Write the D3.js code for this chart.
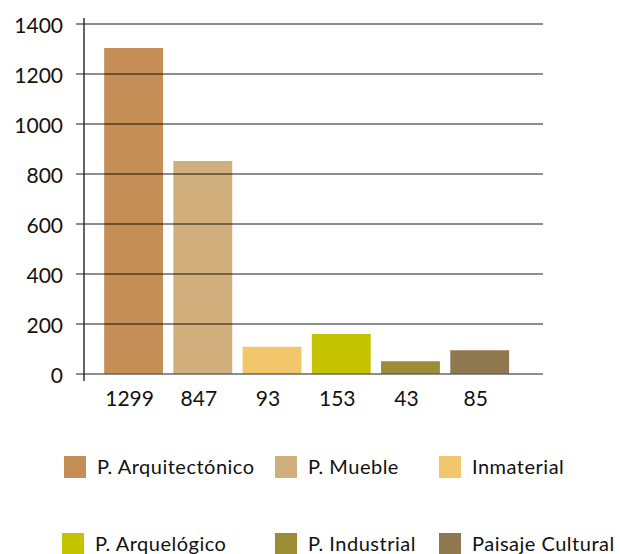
<!DOCTYPE html>
<html>
<head>
<meta charset="utf-8">
<script src="https://cdn.jsdelivr.net/npm/d3@7"></script>
<style>
  html, body { margin: 0; padding: 0; background: #fff; }
  svg { display: block; font-family: Lato, "Open Sans", sans-serif; }
</style>
</head>
<body>
<svg id="chart" width="620" height="554"></svg>
<script>
// ---- data ----
const categories = ["P. Arquitectónico", "P. Mueble", "Inmaterial", "P. Arqueológico", "P. Industrial", "Paisaje Cultural"];
const barLabels = ["1299", "847", "93", "153", "43", "85"];
const values = [1302, 850, 107, 158, 49, 93];
const colors = ["#C68E57", "#D0AF7C", "#F2C66A", "#C5C200", "#9C8C36", "#8F774F"];
const legendNames = ["P. Arquitectónico", "P. Mueble", "Inmaterial", "P. Arquelógico", "P. Industrial", "Paisaje Cultural"];
const yTicks = [0, 200, 400, 600, 800, 1000, 1200, 1400];

const svg = d3.select("#chart");

const y = d3.scaleLinear().domain([0, 1400]).range([373.5, 23.5]);
const x = d3.scaleBand().domain(categories).range([93.8, 519.5]).paddingInner(0.15).paddingOuter(0.15);

// bars
svg.append("g").selectAll("rect")
  .data(values)
  .join("rect")
  .attr("x", (d, i) => x(categories[i]))
  .attr("width", x.bandwidth())
  .attr("y", d => y(d))
  .attr("height", d => y(0) - y(d))
  .attr("fill", (d, i) => colors[i]);

// y axis with gridlines (drawn over bars)
const gridLeft = 76, gridRight = 543;
const yAxis = d3.axisLeft(y).tickValues(yTicks).tickSize(-(gridRight - gridLeft)).tickPadding(13).tickFormat(d3.format("d"));
const gy = svg.append("g").attr("transform", `translate(${gridLeft},0)`).call(yAxis);
gy.select(".domain").remove();
gy.selectAll(".tick line").attr("stroke", "#000").attr("stroke-opacity", 0.6).attr("stroke-width", 1.4);
gy.selectAll(".tick text").attr("font-size", 21).attr("fill", "#111").attr("font-family", "Lato, sans-serif")
  .attr("dy", "0.42em");

// vertical axis line
svg.append("line")
  .attr("x1", 84).attr("x2", 84)
  .attr("y1", 18).attr("y2", 381)
  .attr("stroke", "#222").attr("stroke-width", 1.4);

// x axis labels
const xAxis = d3.axisBottom(x).tickSize(0).tickPadding(18).tickFormat((d, i) => barLabels[i]);
const gx = svg.append("g").attr("transform", `translate(0,${y(0)})`).call(xAxis);
gx.select(".domain").remove();
gx.selectAll(".tick text").attr("font-size", 21).attr("fill", "#111").attr("font-family", "Lato, sans-serif")
  .attr("dx", -4);

// legend
const legendX = [64, 275, 439];
const legendY = [456, 533];
const lg = svg.append("g");
legendNames.forEach((name, i) => {
  const col = i % 3, row = Math.floor(i / 3);
  const gx0 = legendX[col] - (row === 1 && col === 0 ? 2 : 0);
  const g = lg.append("g").attr("transform", `translate(${gx0},${legendY[row]})`);
  g.append("rect").attr("width", 22).attr("height", 22).attr("fill", colors[i]);
  g.append("text").attr("x", 33).attr("y", 18).attr("font-size", 20).attr("fill", "#111")
    .attr("letter-spacing", 0.5).attr("font-family", "Lato, sans-serif").text(name);
});
</script>
</body>
</html>
